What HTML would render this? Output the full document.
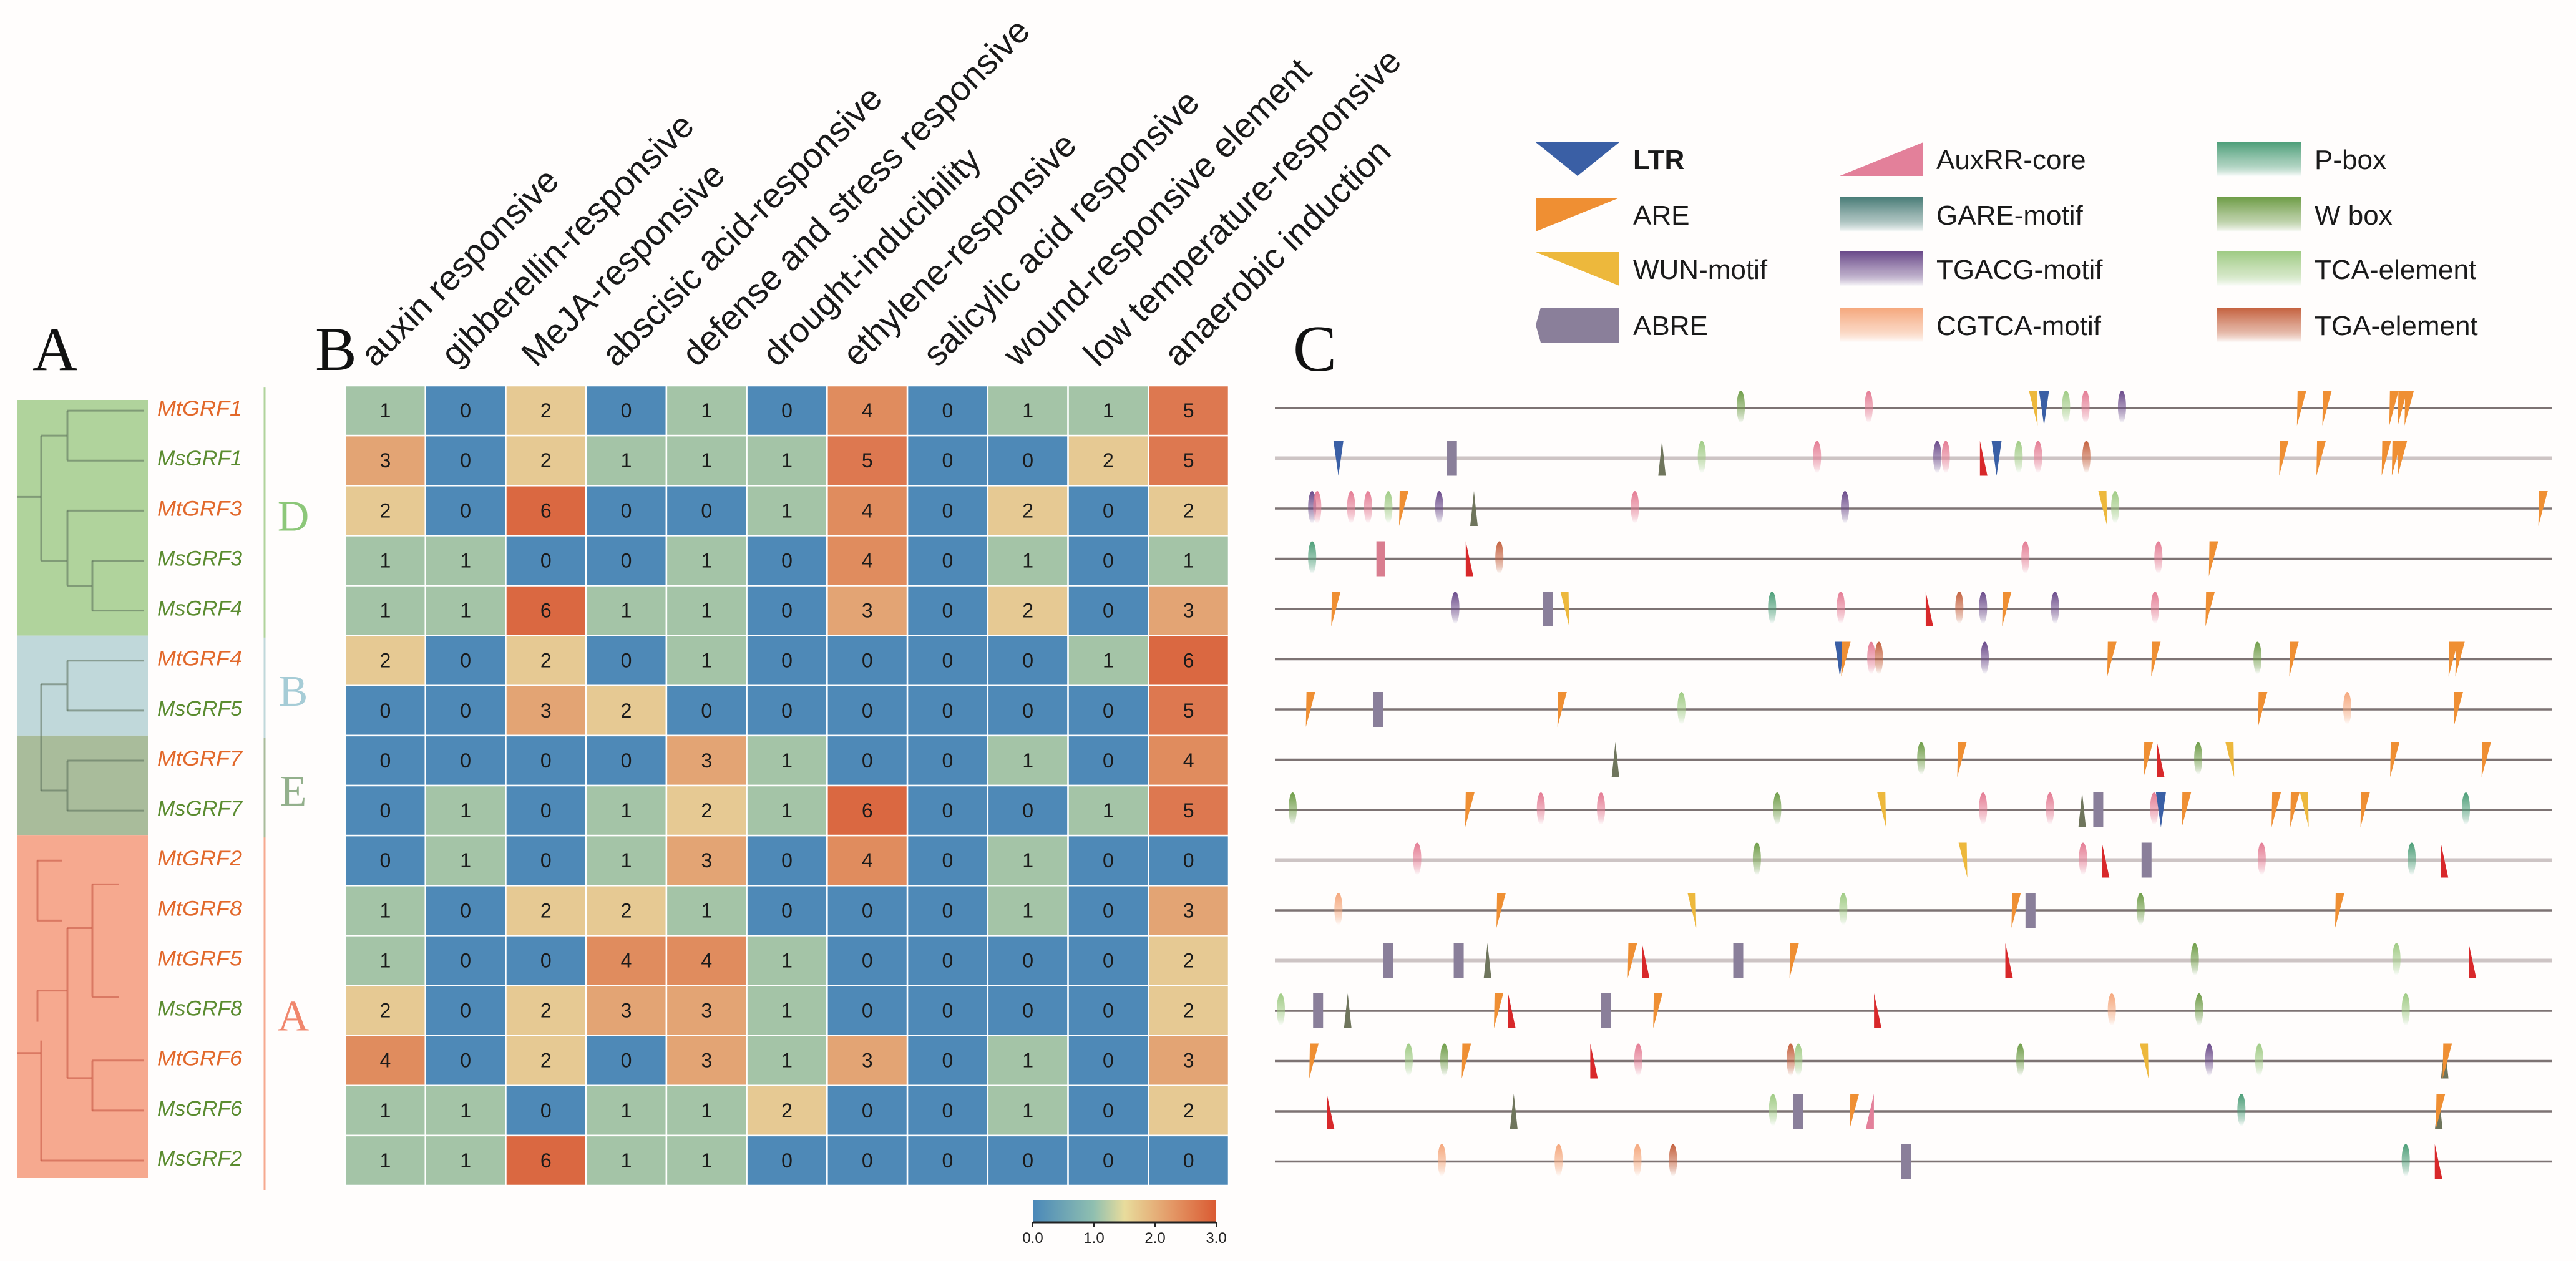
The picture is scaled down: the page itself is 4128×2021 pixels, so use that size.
<!DOCTYPE html>
<html><head><meta charset="utf-8">
<style>
html,body{margin:0;padding:0;background:#fffdfc;}
svg{display:block;}
</style></head>
<body>
<svg id="fig" width="4128" height="2021" viewBox="0 0 4128 2021" xmlns="http://www.w3.org/2000/svg" font-family="Liberation Sans, sans-serif">
<defs id="defs"></defs>
<rect x="0" y="0" width="4128" height="2021" fill="#fffdfc"/>
<text x="52" y="593" font-family="Liberation Serif, serif" font-size="100" fill="#111">A</text>
<text x="505" y="593" font-family="Liberation Serif, serif" font-size="100" fill="#111">B</text>
<text x="2072" y="594" font-family="Liberation Serif, serif" font-size="105" fill="#111">C</text>

<g id="tree"></g>
<g id="heat"></g>
<g id="cbar"></g>
<g id="legend"></g>
<g id="tracks"></g>
</svg>
<script>
const NS="http://www.w3.org/2000/svg";
const genes=["MtGRF1","MsGRF1","MtGRF3","MsGRF3","MsGRF4","MtGRF4","MsGRF5","MtGRF7","MsGRF7","MtGRF2","MtGRF8","MtGRF5","MsGRF8","MtGRF6","MsGRF6","MsGRF2"];
const categories=["auxin responsive","gibberellin-responsive","MeJA-responsive","abscisic acid-responsive","defense and stress responsive","drought-inducibility","ethylene-responsive","salicylic acid responsive","wound-responsive element","low temperature-responsive","anaerobic induction"];
const counts=[
[1,0,2,0,1,0,4,0,1,1,5],
[3,0,2,1,1,1,5,0,0,2,5],
[2,0,6,0,0,1,4,0,2,0,2],
[1,1,0,0,1,0,4,0,1,0,1],
[1,1,6,1,1,0,3,0,2,0,3],
[2,0,2,0,1,0,0,0,0,1,6],
[0,0,3,2,0,0,0,0,0,0,5],
[0,0,0,0,3,1,0,0,1,0,4],
[0,1,0,1,2,1,6,0,0,1,5],
[0,1,0,1,3,0,4,0,1,0,0],
[1,0,2,2,1,0,0,0,1,0,3],
[1,0,0,4,4,1,0,0,0,0,2],
[2,0,2,3,3,1,0,0,0,0,2],
[4,0,2,0,3,1,3,0,1,0,3],
[1,1,0,1,1,2,0,0,1,0,2],
[1,1,6,1,1,0,0,0,0,0,0]];
const colorTicks=["0.0","1.0","2.0","3.0"];
const groups=[{name:"D",from:0,to:4,bg:"#b0d39c",fg:"#8cc779"},{name:"B",from:5,to:6,bg:"#c0d8da",fg:"#a6ccd6"},{name:"E",from:7,to:8,bg:"#a9bc9b",fg:"#93b08c"},{name:"A",from:9,to:15,bg:"#f6a98f",fg:"#f0866c"}];
const elements=[
[[550,"green"],[701,"pink"],[896,"wun"],[908,"ltr"],[934,"lgreen"],[957,"pink"],[1000,"purple"],[1211,"are"],[1241,"are"],[1320,"are"],[1330,"are"],[1338,"are"]],
[[75,"ltr"],[209,"abre"],[457,"olive"],[504,"lgreen"],[640,"pink"],[782,"purple"],[792,"pink"],[836,"red"],[852,"ltr"],[878,"lgreen"],[901,"pink"],[958,"brown"],[1190,"are"],[1234,"are"],[1311,"are"],[1323,"are"],[1330,"are"]],
[[44,"purple"],[50,"pink"],[90,"pink"],[110,"pink"],[134,"lgreen"],[151,"are"],[194,"purple"],[235,"olive"],[425,"pink"],[673,"purple"],[978,"wun"],[992,"lgreen"],[1496,"are"]],
[[44,"teal"],[125,"auxbar"],[229,"red"],[265,"brown"],[886,"pink"],[1043,"pink"],[1107,"are"]],
[[71,"are"],[213,"purple"],[322,"abre"],[343,"wun"],[587,"teal"],[668,"pink"],[772,"red"],[808,"brown"],[836,"purple"],[863,"are"],[921,"purple"],[1039,"pink"],[1103,"are"]],
[[667,"ltr"],[673,"are"],[704,"pink"],[713,"brown"],[838,"purple"],[987,"are"],[1039,"are"],[1160,"green"],[1202,"are"],[1390,"are"],[1398,"are"]],
[[41,"are"],[122,"abre"],[338,"are"],[480,"lgreen"],[1165,"are"],[1266,"peach"],[1396,"are"]],
[[402,"olive"],[763,"green"],[810,"are"],[1030,"are"],[1045,"red"],[1090,"green"],[1128,"wun"],[1321,"are"],[1429,"are"]],
[[21,"green"],[229,"are"],[314,"pink"],[385,"pink"],[593,"green"],[717,"wun"],[836,"pink"],[915,"pink"],[953,"olive"],[972,"abre"],[1038,"pink"],[1046,"ltr"],[1075,"are"],[1181,"are"],[1203,"are"],[1216,"wun"],[1286,"are"],[1406,"teal"]],
[[168,"pink"],[569,"green"],[813,"wun"],[954,"pink"],[980,"red"],[1029,"abre"],[1165,"pink"],[1342,"teal"],[1380,"red"]],
[[75,"peach"],[266,"are"],[493,"wun"],[671,"lgreen"],[874,"are"],[892,"abre"],[1022,"green"],[1256,"are"]],
[[134,"abre"],[217,"abre"],[251,"olive"],[421,"are"],[437,"red"],[547,"abre"],[612,"are"],[866,"red"],[1086,"green"],[1324,"lgreen"],[1413,"red"]],
[[7,"lgreen"],[51,"abre"],[86,"olive"],[263,"are"],[279,"red"],[391,"abre"],[451,"are"],[711,"red"],[988,"peach"],[1091,"green"],[1335,"lgreen"]],
[[45,"are"],[158,"lgreen"],[200,"green"],[225,"are"],[376,"red"],[429,"pink"],[609,"brown"],[618,"lgreen"],[880,"green"],[1027,"wun"],[1103,"purple"],[1162,"lgreen"],[1381,"olive"],[1383,"are"]],
[[65,"red"],[282,"olive"],[588,"lgreen"],[618,"abre"],[683,"are"],[702,"aux"],[1141,"teal"],[1374,"olive"],[1375,"are"]],
[[197,"peach"],[335,"peach"],[428,"peach"],[470,"brown"],[745,"abre"],[1335,"teal"],[1373,"red"]]];
const lightLines=[1,9,11];
const legendItems=[["LTR","ltr"],["ARE","are"],["WUN-motif","wun"],["ABRE","abre"],["AuxRR-core","aux"],["GARE-motif","gare"],["TGACG-motif","purple"],["CGTCA-motif","peach"],["P-box","teal"],["W box","green"],["TCA-element","lgreen"],["TGA-element","brown"]];

function mk(tag,attrs,parent){const e=document.createElementNS(NS,tag);for(const k in attrs)e.setAttribute(k,attrs[k]);if(parent)parent.appendChild(e);return e;}
const gradColors={pink:"#e47b93",green:"#6f9d48",lgreen:"#9fcb84",purple:"#6a4a8a",peach:"#f5a77c",teal:"#4c9e78",brown:"#c4613e",gare:"#4a7d78"};
const defs=document.getElementById("defs");
for(const k in gradColors){
  const g=mk("linearGradient",{id:"g-"+k,x1:0,y1:0,x2:0,y2:1},defs);
  mk("stop",{offset:"0","stop-color":gradColors[k]},g);
  mk("stop",{offset:"0.55","stop-color":gradColors[k],"stop-opacity":"0.55"},g);
  mk("stop",{offset:"1","stop-color":"#ffffff","stop-opacity":"0.9"},g);
}
const cg=mk("linearGradient",{id:"cbar-grad",x1:0,y1:0,x2:1,y2:0},defs);
[["0","#4a88b9"],["0.33","#8fbfb0"],["0.5","#e8dc9c"],["0.75","#e49a68"],["1","#da5a32"]].forEach(s=>mk("stop",{offset:s[0],"stop-color":s[1]},cg));

const hx0=553,hx1=1969,hy0=618,hy1=1900;
const cw=(hx1-hx0)/categories.length, rh=(hy1-hy0)/genes.length;
const xCol=i=>hx0+i*cw, yRow=j=>hy0+j*rh;
const palette=["#4e89b7","#a4c4a7","#e6c993","#e3a474","#e08c5e","#dd7850","#da6841"];
function colorFor(v){return palette[Math.max(0,Math.min(palette.length-1,Math.round(v)))];}
const heat=document.getElementById("heat");
counts.forEach((row,j)=>{row.forEach((v,i)=>{
  const r=mk("rect",{x:xCol(i),y:yRow(j),width:cw,height:rh,fill:colorFor(v),stroke:"#ffffff","stroke-width":2.5},heat);
  
  
  const t=mk("text",{x:xCol(i)+cw/2,y:yRow(j)+rh/2+11,"text-anchor":"middle","font-size":32,fill:"#1a1a1a"},heat);
  t.textContent=v;
  
  
});});
categories.forEach((c,i)=>{
  const cx=xCol(i)+cw/2-16, cy=590;
  const t=mk("text",{x:cx,y:cy,"font-size":56,fill:"#1a1a1a",transform:`rotate(-45 ${cx} ${cy})`},heat);
  t.textContent=c;
  
  
});

const cb=document.getElementById("cbar");
const cbx0=1655,cbx1=1949;
const r0=mk("rect",{x:cbx0,y:1924,width:cbx1-cbx0,height:34,fill:"url(#cbar-grad)"},cb);


mk("line",{x1:cbx0,y1:1959,x2:cbx1,y2:1959,stroke:"#222","stroke-width":3},cb);
colorTicks.forEach((tk,i)=>{
  const x=cbx0+i*(cbx1-cbx0)/(colorTicks.length-1);
  mk("line",{x1:x,y1:1959,x2:x,y2:1966,stroke:"#222","stroke-width":2},cb);
  const t=mk("text",{x:x,y:1992,"text-anchor":"middle","font-size":24,fill:"#222"},cb);
  t.textContent=tk;
  
  
});

const tree=document.getElementById("tree");
const rowC=j=>hy0+rh*(j+0.5)+8;
groups.forEach((g,gi)=>{
  const top=gi==0?641:yRow(g.from), bot=gi==3?1888:yRow(g.to+1);
  const r=mk("rect",{x:28,y:top,width:209,height:bot-top,fill:g.bg},tree);
  
  
  mk("line",{x1:424,y1:rowC(g.from)-45,x2:424,y2:rowC(g.to)+40,stroke:g.bg,"stroke-width":3},tree);
  const t=mk("text",{x:470,y:(rowC(g.from)+rowC(g.to))/2+24,"text-anchor":"middle","font-family":"Liberation Serif, serif","font-size":70,fill:g.fg},tree);
  t.textContent=g.name;
  
  
});
const lc="rgba(90,110,90,0.55)";
function seg(x1,y1,x2,y2,c){mk("line",{x1,y1,x2,y2,stroke:c||lc,"stroke-width":3},tree);}
seg(108,rowC(0)-8,230,rowC(0)-8);seg(108,rowC(1)-8,230,rowC(1)-8);seg(108,rowC(0)-8,108,rowC(1)-8);
seg(148,rowC(3)-8,230,rowC(3)-8);seg(148,rowC(4)-8,230,rowC(4)-8);seg(148,rowC(3)-8,148,rowC(4)-8);
seg(108,rowC(2)-8,230,rowC(2)-8);seg(108,rowC(2)-8,108,(rowC(3)+rowC(4))/2-8);seg(108,(rowC(3)+rowC(4))/2-8,148,(rowC(3)+rowC(4))/2-8);
seg(66,(rowC(0)+rowC(1))/2-8,108,(rowC(0)+rowC(1))/2-8);seg(66,(rowC(0)+rowC(1))/2-8,66,rowC(3)-8);seg(66,rowC(3)-8,108,rowC(3)-8);
seg(28,rowC(2)-30,66,rowC(2)-30);
seg(108,rowC(5)-8,230,rowC(5)-8);seg(108,rowC(6)-8,230,rowC(6)-8);seg(108,rowC(5)-8,108,rowC(6)-8);
seg(108,rowC(7)-8,230,rowC(7)-8);seg(108,rowC(8)-8,230,rowC(8)-8);seg(108,rowC(7)-8,108,rowC(8)-8);
seg(66,rowC(5)+30,108,rowC(5)+30);seg(66,rowC(5)+30,66,rowC(7)+40);seg(66,rowC(7)+40,108,rowC(7)+40);
const la="rgba(200,90,70,0.6)";
seg(60,rowC(9)-8,100,rowC(9)-8,la);seg(60,rowC(9)-8,60,rowC(10)+8,la);seg(60,rowC(10)+8,100,rowC(10)+8,la);
seg(148,rowC(10)-50,190,rowC(10)-50,la);seg(148,rowC(10)-50,148,rowC(11)+50,la);seg(148,rowC(11)+50,190,rowC(11)+50,la);
seg(108,rowC(11)-60,148,rowC(11)-60,la);seg(108,rowC(11)-60,108,rowC(14)-60,la);
seg(148,rowC(13)-8,230,rowC(13)-8,la);seg(148,rowC(14)-8,230,rowC(14)-8,la);seg(148,rowC(13)-8,148,rowC(14)-8,la);
seg(108,rowC(14)-60,148,rowC(14)-60,la);
seg(60,rowC(12)-40,108,rowC(12)-40,la);seg(60,rowC(12)-40,60,rowC(12)+10,la);
seg(66,rowC(15)-8,230,rowC(15)-8,la);seg(66,rowC(12)+40,66,rowC(15)-8,la);
seg(28,rowC(13)-20,66,rowC(13)-20,la);
genes.forEach((g,j)=>{
  const t=mk("text",{x:388,y:rowC(j),"text-anchor":"end","font-size":34,"font-style":"italic",fill:g.startsWith("Mt")?"#e2682a":"#5b8c30",textLength:136,lengthAdjust:"spacingAndGlyphs"},tree);
  t.textContent=g;
  
  
});

const solid={ltr:"#3a5fa5",are:"#ef8f33",wun:"#edb83c",red:"#d8282a",olive:"#6f755c",aux:"#e3809a",abre:"#8a7f9a",auxbar:"#d97d8f"};
function marker(parent,type,x,y,s){
  s=s||1;const h=28*s;let e;
  if(type==="ltr") e=mk("polygon",{points:`${x-8*s},${y-h} ${x+8*s},${y-h} ${x},${y+h}`,fill:solid.ltr},parent);
  else if(type==="are") e=mk("polygon",{points:`${x-5*s},${y-h} ${x+9*s},${y-h} ${x-6*s},${y+h}`,fill:solid.are},parent);
  else if(type==="wun") e=mk("polygon",{points:`${x-8*s},${y-h} ${x+5*s},${y-h} ${x+6*s},${y+h}`,fill:solid.wun},parent);
  else if(type==="red") e=mk("polygon",{points:`${x-5*s},${y-h} ${x-5*s},${y+h} ${x+7*s},${y+h}`,fill:solid.red},parent);
  else if(type==="aux") e=mk("polygon",{points:`${x+7*s},${y-h} ${x+7*s},${y+h} ${x-6*s},${y+h}`,fill:solid.aux},parent);
  else if(type==="olive") e=mk("polygon",{points:`${x},${y-h} ${x-6*s},${y+h} ${x+6*s},${y+h}`,fill:solid.olive},parent);
  else if(type==="abre") e=mk("rect",{x:x-8*s,y:y-h,width:16*s,height:2*h,fill:solid.abre},parent);
  else if(type==="auxbar") e=mk("rect",{x:x-7,y:y-h,width:14,height:2*h,fill:solid.auxbar},parent);
  else e=mk("ellipse",{cx:x,cy:y-2,rx:6.5*s,ry:26*s,fill:"url(#g-"+type+")"},parent);
  return e;
}
const tracks=document.getElementById("tracks");
const tx0=2043,tx1=4090,pMax=1508;
const xPos=p=>tx0+p/pMax*(tx1-tx0);
const lineY=j=>654+j*80.5;
elements.forEach((list,j)=>{
  const ln=mk("line",{x1:tx0,y1:lineY(j),x2:tx1,y2:lineY(j),stroke:lightLines.includes(j)?"#cdc4c4":"#7d7373","stroke-width":lightLines.includes(j)?6:3.5},tracks);
  
  
  list.forEach(el=>{
    const m=marker(tracks,el[1],xPos(el[0]),lineY(j));
    
    
  });
});

const lg=document.getElementById("legend");
const colX=[2461,2948,3553], txtX=[2617,3103,3709], rowY=[255,344,431,521];
legendItems.forEach((it,k)=>{
  const c=Math.floor(k/4), r=k%4;
  const x0=colX[c], cy=rowY[r];
  let e;
  if(it[1]==="ltr") e=mk("polygon",{points:`${x0},${cy-27} ${x0+134},${cy-27} ${x0+67},${cy+27}`,fill:solid.ltr},lg);
  else if(it[1]==="are") e=mk("polygon",{points:`${x0},${cy-27} ${x0+134},${cy-27} ${x0},${cy+27}`,fill:solid.are},lg);
  else if(it[1]==="wun") e=mk("polygon",{points:`${x0},${cy-27} ${x0+134},${cy-27} ${x0+134},${cy+27}`,fill:solid.wun},lg);
  else if(it[1]==="aux") e=mk("polygon",{points:`${x0+134},${cy-27} ${x0+134},${cy+27} ${x0},${cy+27}`,fill:solid.aux},lg);
  else if(it[1]==="abre") e=mk("polygon",{points:`${x0+8},${cy-28} ${x0+134},${cy-28} ${x0+134},${cy+28} ${x0+8},${cy+28} ${x0},${cy}`,fill:solid.abre},lg);
  else e=mk("rect",{x:x0,y:cy-28,width:134,height:56,fill:"url(#g-"+it[1]+")"},lg);
  
  
  const t=mk("text",{x:txtX[c],y:cy+16,"font-size":44,fill:"#1a1a1a"},lg);
  if(it[0]==="LTR") t.setAttribute("font-weight","bold");
  t.textContent=it[0];
  
  
});
</script>
</body></html>
